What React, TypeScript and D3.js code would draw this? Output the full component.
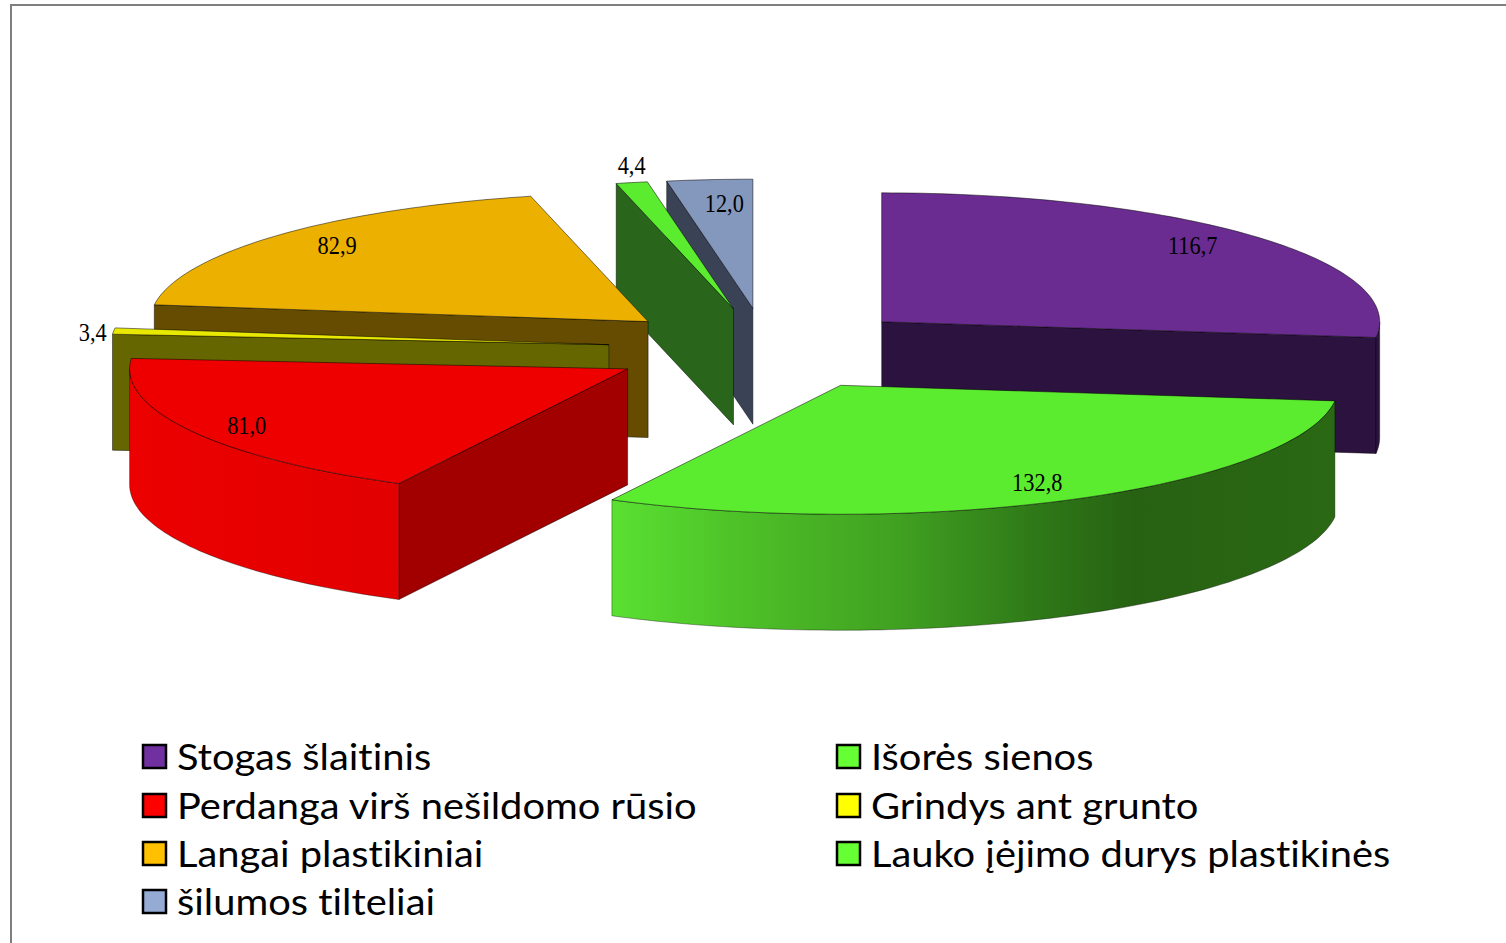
import React from "react";
import * as d3 from "d3";

// Heat-loss shares per building element, in pie order (clockwise from 12 o'clock).
const categories = [
  "Stogas šlaitinis",
  "Išorės sienos",
  "Perdanga virš nešildomo rūsio",
  "Grindys ant grunto",
  "Langai plastikiniai",
  "Lauko įėjimo durys plastikinės",
  "šilumos tilteliai",
];
const values = [116.7, 132.8, 81.0, 3.4, 82.9, 4.4, 12.0];
const valueLabels = ["116,7", "132,8", "81,0", "3,4", "82,9", "4,4", "12,0"];

const topColors = ["#6a2c91", "#5cec2f", "#ee0000", "#e8e800", "#ecb100", "#5cec2f", "#8497bd"];
const wallColors = ["#2c133f", "#29661a", "#a20000", "#666600", "#664c00", "#29651a", "#3a4356"];
const legendColors = ["#7030a0", "#66ff33", "#ff0000", "#ffff00", "#ffc000", "#66ff33", "#95abd3"];

// Back-to-front painting sequence for the exploded slices.
const paintOrder = [0, 6, 5, 4, 3, 2, 1];

// Projection of the tilted pie.
const CX = 764.5;
const CY = 349;
const RX = 498;
const RY = 129;
const EXPLODE_X = 156.5;
const EXPLODE_Y = 41;
const DEPTH = 116;
// Extra horizontal pull applied to individual exploded slices.
const sliceShift = [0, 3, 0, 0, 0, 1, 2];

// Label placement along each slice's mid-angle, with small per-slice nudges.
const labelRadial = [0.85, 0.85, 0.87, 1.0, 0.85, 1.0, 0.8];
const labelNudge: [number, number][] = [
  [-6, -4], [-1, 0], [-2, 2], [-21, 1], [4, -3], [0, -17], [6, -2],
];

const legendOrder = [
  { index: 0, x: 143, y: 757 },
  { index: 2, x: 143, y: 806 },
  { index: 4, x: 143, y: 854 },
  { index: 6, x: 143, y: 902 },
  { index: 1, x: 837, y: 757 },
  { index: 3, x: 837, y: 806 },
  { index: 5, x: 837, y: 854 },
];

const pie = d3.pie<number>().sort(null).value((d) => d);
const arcs = pie(values);

const project = (angle: number, r = 1): [number, number] => [
  RX * r * Math.sin(angle),
  -RY * r * Math.cos(angle),
];

const fmt = ([x, y]: [number, number]) => `${x.toFixed(1)},${y.toFixed(1)}`;

function arcPoints(a0: number, a1: number, ox: number, oy: number, dy = 0): [number, number][] {
  const steps = Math.max(2, Math.ceil(Math.abs(a1 - a0) / 0.02));
  return d3.range(steps + 1).map((i) => {
    const [x, y] = project(a0 + ((a1 - a0) * i) / steps);
    return [ox + x, oy + y + dy];
  });
}

function sliceOrigin(i: number): [number, number] {
  const mid = (arcs[i].startAngle + arcs[i].endAngle) / 2;
  return [CX + EXPLODE_X * Math.sin(mid) + sliceShift[i], CY - EXPLODE_Y * Math.cos(mid)];
}

function Slice({ i }: { i: number }) {
  const { startAngle: a0, endAngle: a1 } = arcs[i];
  const apex = sliceOrigin(i);
  const [ox, oy] = apex;
  const top = arcPoints(a0, a1, ox, oy);
  const topPath = `M${fmt(apex)}L${top.map(fmt).join("L")}Z`;

  // The radial wall on the starting edge faces the viewer for slices on the left half;
  // the first slice shows its closing edge instead.
  const pieces: React.ReactNode[] = [];
  const startP = top[0];
  const endP = top[top.length - 1];
  const wall = (p: [number, number], key: string) => {
    const pts: [number, number][] = [apex, p, [p[0], p[1] + DEPTH], [apex[0], apex[1] + DEPTH]];
    pieces.push(
      <path key={key} d={`M${pts.map(fmt).join("L")}Z`} fill={wallColors[i]} stroke="#000" strokeOpacity={0.45} strokeWidth={1} />
    );
  };
  if (Math.sin(a0) < 0) wall(startP, "s");
  if (i === 0) wall(endP, "e");

  // Curved outer wall: only the part on the near half of the ellipse is visible.
  const lo = Math.max(a0, Math.PI / 2);
  const hi = Math.min(a1, (3 * Math.PI) / 2);
  if (hi > lo) {
    const upper = arcPoints(lo, hi, ox, oy);
    const lower = arcPoints(hi, lo, ox, oy, DEPTH);
    const fill = i === 1 ? "url(#frontGreen)" : i === 2 ? "url(#frontRed)" : wallColors[i];
    pieces.push(
      <path key="o" d={`M${[...upper, ...lower].map(fmt).join("L")}Z`} fill={fill} stroke="#000" strokeOpacity={0.35} strokeWidth={1} />
    );
  }
  return (
    <g>
      {pieces}
      <path d={topPath} fill={topColors[i]} stroke="#000" strokeOpacity={0.5} strokeWidth={1} />
    </g>
  );
}

function ValueLabel({ i }: { i: number }) {
  const mid = (arcs[i].startAngle + arcs[i].endAngle) / 2;
  const [ox, oy] = sliceOrigin(i);
  const [x, y] = project(mid, labelRadial[i]);
  return (
    <text
      transform={`translate(${ox + x + labelNudge[i][0]},${oy + y + labelNudge[i][1]}) scale(0.86,1)`}
      dy="0.33em"
      textAnchor="middle"
      fontFamily="'Liberation Serif', serif"
      fontSize={26}
      fill="#000"
    >
      {valueLabels[i]}
    </text>
  );
}

export default function App() {
  return (
    <svg
      width={1506}
      height={943}
      viewBox="0 0 1506 943"
      style={{ position: "absolute", left: 0, top: 0, display: "block", background: "#fff" }}
    >
      <defs>
        <linearGradient id="frontGreen" gradientUnits="userSpaceOnUse" x1={612} x2={1335} y1={0} y2={0}>
          <stop offset="0" stopColor="#5ae032" />
          <stop offset="0.2" stopColor="#4cbd27" />
          <stop offset="0.4" stopColor="#40a021" />
          <stop offset="0.58" stopColor="#2f7a18" />
          <stop offset="0.72" stopColor="#276212" />
          <stop offset="1" stopColor="#2a6814" />
        </linearGradient>
        <linearGradient id="frontRed" gradientUnits="userSpaceOnUse" x1={130} x2={398} y1={0} y2={0}>
          <stop offset="0" stopColor="#ec0000" />
          <stop offset="1" stopColor="#e20000" />
        </linearGradient>
      </defs>

      <path d="M11,943V5H1506" fill="none" stroke="#7f7f7f" strokeWidth={2} />

      {paintOrder.map((i) => (
        <Slice key={categories[i]} i={i} />
      ))}
      {values.map((_, i) => (
        <ValueLabel key={valueLabels[i]} i={i} />
      ))}

      {legendOrder.map(({ index, x, y }) => (
        <g key={categories[index]}>
          <rect x={x} y={y - 12} width={23} height={23} fill={legendColors[index]} stroke="#000" strokeWidth={2.5} />
          <text
            transform={`translate(${x + 34},${y + 13}) scale(1.077,1)`}
            fontFamily="Lato, 'Open Sans', sans-serif"
            fontSize={37}
            fill="#000"
            style={{ fontVariantLigatures: "none" }}
          >
            {categories[index]}
          </text>
        </g>
      ))}
    </svg>
  );
}
